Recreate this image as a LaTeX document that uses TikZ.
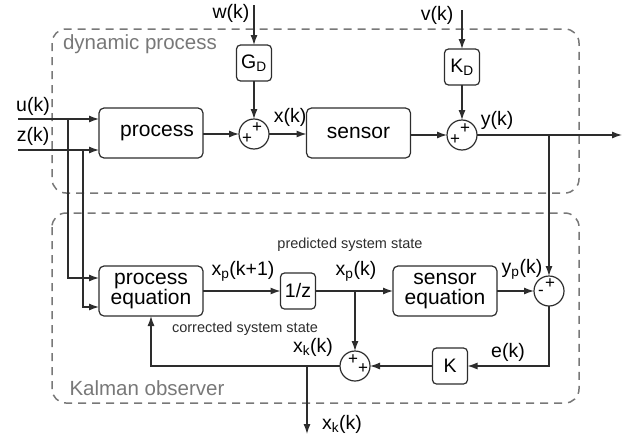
\documentclass[tikz,border=0pt]{standalone}
\usepackage{fontspec}
\setmainfont{Liberation Sans}
\usetikzlibrary{arrows.meta,calc}
\definecolor{dashgray}{RGB}{120,120,120}
\definecolor{linegray}{RGB}{45,45,45}
\begin{document}
\begin{tikzpicture}[x=1pt,y=-1pt,
  font=\fontsize{19.5}{21}\selectfont,
  every node/.style={inner sep=0pt, outer sep=0pt},
  conn/.style={draw=linegray, line width=1.2pt, -{Latex[length=10pt,width=7pt]}},
  wire/.style={draw=linegray, line width=1.2pt},
  blockbox/.style={draw=linegray, line width=1.2pt, rounded corners=5pt, minimum width=104pt, minimum height=50pt, align=center, font=\fontsize{21}{23}\selectfont},
  smallbox/.style={draw=linegray, line width=1.2pt, rounded corners=4pt, minimum width=35pt, minimum height=36pt},
  sumnode/.style={draw=linegray, line width=1.2pt, circle, minimum size=30pt},
  sgn/.style={font=\fontsize{17}{17}\selectfont},
  group/.style={draw=dashgray, line width=1.5pt, dash pattern=on 8pt off 6pt, rounded corners=14pt},
  grouplabel/.style={text=dashgray, font=\fontsize{20.5}{22}\selectfont},
  note/.style={text=linegray, font=\fontsize{14.5}{16}\selectfont}]
\useasboundingbox (0,0) rectangle (631,439);
% group frames
\draw[group] (52,29) rectangle (579,193);
\draw[group] (52,213) rectangle (579,403);
\node[grouplabel] (gdyn) at (140,44) {dynamic process};
\node[grouplabel] (gkal) at (147,388) {Kalman observer};
% top row
\node[blockbox, label={[xshift=6pt, font=\fontsize{21}{23}\selectfont]center:process}] (proc) at (151,133) {};
\node[sumnode] (s1) at (254,134) {};
\node[sgn] (s1a) at (247,139) {+};
\node[sgn] (s1b) at (257,128) {+};
\node[smallbox] (gd) at (254,63) {G\textsubscript{D}};
\node[blockbox] (sens) at (358.5,133) {sensor};
\node[sumnode] (s2) at (462,135) {};
\node[sgn] (s2a) at (455,140) {+};
\node[sgn] (s2b) at (465,129) {+};
\node[smallbox] (kd) at (462,67) {K\textsubscript{D}};
\coordinate (win) at (254,5);
\coordinate (vin) at (462,10);
\node (wl) at (231,13) {w(k)};
\node (vl) at (437,15) {v(k)};
\node (ul) at (33,106) {u(k)};
\node (zl) at (33,136) {z(k)};
\node (xl) at (290,117) {x(k)};
\node (yl) at (497,120) {y(k)};
\coordinate (uin) at (18,119);
\coordinate (zin) at (18,150);
\coordinate (ub) at (68,119);
\coordinate (zb) at (83,150);
\coordinate (yb) at (549,135);
\coordinate (yout) at (622,135);
% bottom
\node[blockbox] (peq) at (151,291) {process\\[-3pt]equation};
\node[smallbox] (dz) at (298,291) {1/z};
\node[blockbox] (seq) at (445,291) {sensor\\[-3pt]equation};
\node[sumnode] (s3) at (549,291) {};
\node[sgn] (s3a) at (550,284) {+};
\node[sgn] (s3b) at (541,293) {-};
\node[smallbox] (kk) at (450,366) {K};
\node[sumnode] (s4) at (355,366) {};
\node[sgn] (s4a) at (353,360) {+};
\node[sgn] (s4b) at (363,369) {+};
\coordinate (xpb) at (355,291);
\coordinate (xkb) at (307,366);
\coordinate (fb) at (151,366);
\coordinate (xkout) at (307,434);
\node (xp1l) at (243,271) {x\textsubscript{p}(k+1)};
\node (xpl) at (356,271) {x\textsubscript{p}(k)};
\node (ypl) at (522,269) {y\textsubscript{p}(k)};
\node (el) at (508,352) {e(k)};
\node (xkl) at (313,347) {x\textsubscript{k}(k)};
\node (xkl2) at (342,424) {x\textsubscript{k}(k)};
\node[note] (pss) at (350,245) {predicted system state};
\node[note] (css) at (245,329) {corrected system state};
% connectors top
\draw[conn] (uin) -- (uin -| proc.west);
\draw[conn] (zin) -- (zin -| proc.west);
\draw[conn] (proc.east |- s1) -- (s1.west);
\draw[conn] (win) -- (gd.north);
\draw[conn] (gd.south) -- (s1.north);
\draw[conn] (s1.east) -- (s1 -| sens.west);
\draw[conn] (sens.east |- s2) -- (s2.west);
\draw[conn] (vin) -- (kd.north);
\draw[conn] (kd.south) -- (s2.north);
\draw[conn] (s2.east) -- (yout);
% connectors bottom
\draw[conn] (ub) |- ($(peq.west)+(0,-13)$);
\draw[conn] (zb) |- ($(peq.west)+(0,16)$);
\draw[conn] (peq.east) -- (dz.west);
\draw[conn] (dz.east) -- (seq.west);
\draw[conn] (seq.east) -- (s3.west);
\draw[conn] (yb) -- (s3.north);
\draw[conn] (s3.south) |- (kk.east);
\draw[conn] (kk.west) -- (s4.east);
\draw[conn] (xpb) -- (s4.north);
\draw[conn] (s4.west) -- (fb) -- (peq.south);
\draw[conn] (xkb) -- (xkout);
\end{tikzpicture}
\end{document}
